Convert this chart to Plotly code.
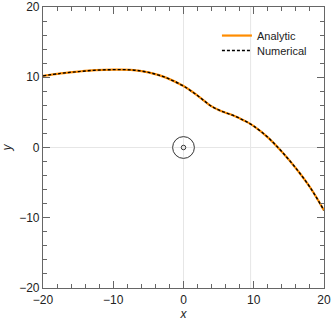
import plotly.graph_objects as go

# ---- data ----
x_vals = [-20, -17.5, -15, -12.5, -10, -7.5, -5, -2.5, 0, 1, 2, 3, 4, 5, 6, 7, 8, 9, 10, 12, 14, 16, 18, 20]
y_analytic = [10.2, 10.55, 10.8, 11.0, 11.08, 11.05, 10.7, 9.95, 8.75, 8.1, 7.4, 6.6, 5.85, 5.35, 4.95, 4.6, 4.15, 3.65, 3.05, 1.45, -0.6, -2.95, -5.65, -8.95]
y_numerical = list(y_analytic)
ring_radii = [1.55, 0.32]
tick_major = [-20, -10, 0, 10, 20]
grid_x = [0, 9.55]
grid_y = [0]

fig = go.Figure()
fig.add_trace(go.Scatter(x=x_vals, y=y_analytic, mode="lines", name="Analytic", legend="legend",
                         line=dict(color="#ff8c00", width=2.2, shape="spline", smoothing=1.0)))
fig.add_trace(go.Scatter(x=x_vals, y=y_numerical, mode="lines", name="Numerical", legend="legend2",
                         line=dict(color="black", width=1.4, dash="3px,2px", shape="spline", smoothing=1.0)))

shapes = []
for gx in grid_x:
    shapes.append(dict(type="line", xref="x", yref="paper", x0=gx, x1=gx, y0=0, y1=1,
                       line=dict(color="#e6e6e6", width=1), layer="below"))
for gy in grid_y:
    shapes.append(dict(type="line", xref="paper", yref="y", x0=0, x1=1, y0=gy, y1=gy,
                       line=dict(color="#e6e6e6", width=1), layer="below"))
for r in ring_radii:
    shapes.append(dict(type="circle", xref="x", yref="y", x0=-r, x1=r, y0=-r, y1=r,
                       line=dict(color="#333333", width=1)))

FONT = "Liberation Sans, Arial"
axis_common = dict(
    range=[-20, 20], tickvals=tick_major, ticks="inside", ticklen=7, tickwidth=1,
    tickcolor="#666666", showline=True, linecolor="#666666", linewidth=1.2,
    mirror="ticks", showgrid=False, zeroline=False, automargin=False,
    tickfont=dict(family=FONT, size=12, color="#222222"),
    minor=dict(dtick=2, ticks="inside", ticklen=4, tickcolor="#666666", showgrid=False),
)

legend_common = dict(xanchor="left", yanchor="top", bgcolor="rgba(0,0,0,0)",
                     font=dict(family=FONT, size=11, color="#222222"),
                     tracegroupgap=0, itemwidth=30)

fig.update_layout(
    width=332, height=324,
    margin=dict(l=43, r=8, t=7, b=36, autoexpand=False),
    paper_bgcolor="white", plot_bgcolor="white",
    shapes=shapes,
    xaxis=dict(axis_common, ticklabelstandoff=0, title=dict(text="<i>x</i>", standoff=4,
               font=dict(family=FONT, size=12, color="#222222"))),
    yaxis=dict(axis_common, title=dict(text="<i>y</i>", standoff=6,
               font=dict(family=FONT, size=12, color="#222222"))),
    legend=dict(legend_common, x=0.619, y=0.95),
    legend2=dict(legend_common, x=0.619, y=0.897),
    showlegend=True,
)

fig.write_html("out.html", config={"displayModeBar": False},
               post_script="document.body.style.margin='0';")
